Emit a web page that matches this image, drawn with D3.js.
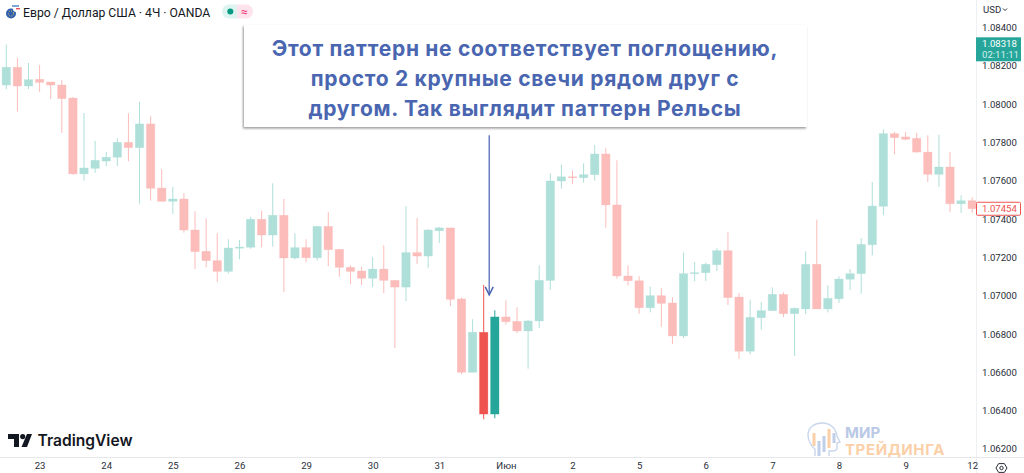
<!DOCTYPE html>
<html>
<head>
<meta charset="utf-8">
<style>
  html, body { margin: 0; padding: 0; background: #fff; overflow: hidden; }
  text { font-family: Roboto, sans-serif; }
</style>
<script src="https://cdn.jsdelivr.net/npm/d3@7"></script>
</head>
<body>
<div id="chart"></div>
<script>
var opens = [1.081,1.08193,1.08095,1.0813,1.08116,1.081,1.08032,1.07636,1.07665,1.07703,1.07723,1.07801,1.07773,1.07897,1.07562,1.07493,1.07505,1.07343,1.07232,1.07183,1.07127,1.07248,1.07253,1.07399,1.07317,1.0742,1.07197,1.07251,1.07198,1.07362,1.07242,1.07148,1.07129,1.07091,1.07139,1.0708,1.07045,1.07225,1.07207,1.07339,1.07354,1.06983,1.066,1.06809,1.06382,1.06889,1.06866,1.06816,1.06868,1.0708,1.07599,1.07621,1.07616,1.07632,1.0774,1.07474,1.07103,1.07078,1.06937,1.07,1.06962,1.0679,1.07115,1.0712,1.07162,1.07235,1.06993,1.0671,1.06885,1.06922,1.07007,1.06906,1.06931,1.07164,1.06931,1.06984,1.07086,1.07115,1.07266,1.07467,1.07846,1.07829,1.07822,1.0775,1.07634,1.07672,1.0748,1.07496]
var highs = [1.08312,1.08243,1.08215,1.08205,1.08116,1.08126,1.08038,1.07954,1.07808,1.0775,1.07822,1.07953,1.08013,1.07937,1.0766,1.07568,1.07535,1.07441,1.07404,1.07326,1.07295,1.07291,1.07411,1.07444,1.07587,1.07505,1.07326,1.07295,1.07364,1.07436,1.07244,1.07159,1.07151,1.07201,1.07263,1.07082,1.07467,1.07406,1.07348,1.07359,1.07354,1.0699,1.06877,1.07056,1.06924,1.06976,1.06939,1.06873,1.07159,1.07639,1.07683,1.07653,1.07691,1.07787,1.0777,1.07707,1.07159,1.07101,1.07047,1.07039,1.06992,1.07225,1.07176,1.07172,1.07248,1.07331,1.07014,1.06979,1.06967,1.07044,1.07018,1.06939,1.07232,1.07397,1.07054,1.07101,1.07139,1.07301,1.07594,1.07869,1.07855,1.07855,1.0785,1.07838,1.0784,1.0775,1.07524,1.07514]
var lows = [1.08079,1.07961,1.08079,1.08064,1.08027,1.0785,1.07632,1.07601,1.07642,1.07677,1.07677,1.07702,1.0748,1.07496,1.07493,1.07427,1.07329,1.07139,1.07148,1.07072,1.07115,1.0719,1.07245,1.07253,1.07256,1.07019,1.0719,1.07174,1.07183,1.07155,1.07099,1.07061,1.07056,1.07045,1.07013,1.06727,1.06972,1.07166,1.07145,1.07275,1.06946,1.0659,1.066,1.06355,1.0636,1.06849,1.06804,1.06619,1.06831,1.07031,1.07559,1.07582,1.0759,1.07601,1.07355,1.07089,1.07054,1.06906,1.06913,1.06838,1.06748,1.06779,1.07075,1.07077,1.07129,1.06951,1.06671,1.06694,1.06822,1.06922,1.06889,1.06685,1.06904,1.06931,1.06913,1.06962,1.0703,1.0701,1.07211,1.07421,1.07738,1.07811,1.07747,1.07594,1.07568,1.07436,1.07432,1.07433]
var closes = [1.08193,1.08095,1.08128,1.08114,1.081,1.08029,1.07636,1.07667,1.07707,1.07723,1.07801,1.07773,1.07897,1.07561,1.07493,1.07505,1.07343,1.0723,1.07183,1.07127,1.07249,1.07254,1.07399,1.07317,1.0742,1.07197,1.07251,1.07198,1.07362,1.0724,1.07148,1.07127,1.07091,1.07139,1.0708,1.07045,1.07225,1.07207,1.07343,1.07354,1.06981,1.066,1.06809,1.06382,1.06889,1.06864,1.06816,1.06868,1.0708,1.07599,1.07621,1.07616,1.07632,1.0774,1.07474,1.07103,1.07078,1.06937,1.07,1.0696,1.0679,1.07115,1.0712,1.07164,1.07235,1.0699,1.0671,1.06887,1.06922,1.07007,1.06906,1.06934,1.07164,1.06931,1.06986,1.07087,1.07115,1.07268,1.07468,1.07846,1.07825,1.07817,1.0775,1.07634,1.07672,1.0748,1.07496,1.07454]
// the two candles the note is talking about keep full colour
var brightIndex = [43, 44]

var priceTicks = [1.084,1.082,1.08,1.078,1.076,1.074,1.072,1.07,1.068,1.066,1.064,1.062]
var dayIndex = [3,9,15,21,27,33,39,45,51,57,63,69,75,81,87]
var dayLabels = ['23','24','25','26','29','30','31','Июн','2','5','6','7','8','9','12']
var noteLines = ['Этот паттерн не соответствует поглощению,', 'просто 2 крупные свечи рядом друг с', 'другом. Так выглядит паттерн Рельсы']
var lastPrice = 1.08318
var currentPrice = 1.07454
var arrowPrices = [1.07838, 1.07004]

var width = 1024
var height = 473
var plotRight = 976
var plotBottom = 457
var axisFont = '9.6px'

var svg = d3
  .select('#chart')
  .append('svg')
  .attr('width', width)
  .attr('height', height)
  .style('display', 'block')

var x = d3.scaleLinear().domain([0, 87]).range([6.3, 972.2])
var y = d3.scaleLinear().domain([1.062, 1.084]).range([448.9, 27.6])

svg.append('clipPath').attr('id', 'plot')
  .append('rect').attr('width', plotRight).attr('height', plotBottom)

var candles = opens.map((o, i) => ({ i: i, o: o, h: highs[i], l: lows[i], c: closes[i] }))

function candleColor(d) {
  var up = d.c >= d.o
  if (brightIndex.includes(d.i)) return up ? '#26a69a' : '#ef5350'
  return up ? '#aedfd9' : '#fbbcba'
}

var plot = svg.append('g').attr('clip-path', 'url(#plot)')

var groups = plot.selectAll('.candle').data(candles).enter().append('g').attr('class', 'candle')

groups.append('line')
  .attr('x1', d => x(d.i))
  .attr('x2', d => x(d.i))
  .attr('y1', d => y(d.h))
  .attr('y2', d => y(d.l))
  .attr('stroke', candleColor)
  .attr('stroke-width', 1)

groups.append('rect')
  .attr('x', d => x(d.i) - 4.2)
  .attr('width', 8.4)
  .attr('y', d => y(Math.max(d.o, d.c)))
  .attr('height', d => Math.max(1, Math.abs(y(d.o) - y(d.c))))
  .attr('fill', candleColor)
  .attr('stroke', candleColor)
  .attr('stroke-opacity', 0.5)
  .attr('stroke-width', 0.6)

// axes
svg.append('line').attr('x1', plotRight + 0.5).attr('x2', plotRight + 0.5).attr('y1', 0).attr('y2', height).attr('stroke', '#eef0f3')
svg.append('line').attr('x1', 0).attr('x2', width).attr('y1', plotBottom + 0.5).attr('y2', plotBottom + 0.5).attr('stroke', '#e6e8ec')

var yAxis = svg.append('g')
  .attr('transform', 'translate(' + (plotRight + 6) + ',0)')
  .call(d3.axisRight(y).tickValues(priceTicks).tickSize(0).tickPadding(0).tickFormat(d3.format('.5f')))
var xAxis = svg.append('g')
  .attr('transform', 'translate(0,' + (plotBottom + 4) + ')')
  .call(d3.axisBottom(x).tickValues(dayIndex).tickSize(0).tickPadding(1).tickFormat((d, i) => dayLabels[i]))
yAxis.select('.domain').remove()
xAxis.select('.domain').remove()
svg.selectAll('.tick text')
  .attr('fill', '#2a2e39')
  .style('font-family', 'Roboto, sans-serif')
  .style('font-size', axisFont)

// price tags
svg.append('rect').attr('x', plotRight).attr('y', y(lastPrice) - 6).attr('width', 45).attr('height', 24).attr('fill', '#26a69a')
svg.append('text').attr('x', plotRight + 6).attr('y', y(lastPrice) + 3.5).text(d3.format('.5f')(lastPrice))
  .attr('fill', '#fff').style('font-size', axisFont)
svg.append('text').attr('x', plotRight + 6).attr('y', y(lastPrice) + 14.5).text('02:11:11')
  .attr('fill', '#d5f0ec').style('font-size', axisFont)

svg.append('rect').attr('x', plotRight + 0.5).attr('y', y(currentPrice) - 6.5).attr('width', 44).attr('height', 13).attr('rx', 1)
  .attr('fill', '#fff').attr('stroke', '#ef5350')
svg.append('text').attr('x', plotRight + 6).attr('y', y(currentPrice) + 3.5).text(d3.format('.5f')(currentPrice))
  .attr('fill', '#ef5350').style('font-size', axisFont)

svg.append('text').attr('x', 983).attr('y', 13).text('USD').attr('fill', '#2a2e39').style('font-size', axisFont)
svg.append('path').attr('d', 'M1003 8.5l2 2 2-2').attr('fill', 'none').attr('stroke', '#2a2e39')

// hex settings icon
svg.append('path').attr('d', 'M996 468l2.6-4.4h5.8l2.6 4.4-2.6 4.4h-5.8z').attr('fill', 'none').attr('stroke', '#2a2e39')
svg.append('circle').attr('cx', 1001.5).attr('cy', 468).attr('r', 1.7).attr('fill', 'none').attr('stroke', '#2a2e39')

// header
var head = svg.append('g')
head.append('circle').attr('cx', 11).attr('cy', 13.5).attr('r', 5).attr('fill', '#2f5fb0')
head.append('circle').attr('cx', 11).attr('cy', 13.5).attr('r', 2.6).attr('fill', 'none').attr('stroke', '#e8c94a').attr('stroke-dasharray', '1 1.4')
head.append('circle').attr('cx', 16.5).attr('cy', 8.5).attr('r', 3.6).attr('fill', '#fff')
head.append('path').attr('d', 'M12 5h7v2h-7z').attr('fill', '#7fa4d8')
head.append('path').attr('d', 'M16 8h4v1.4h-4z').attr('fill', '#e8505b')
head.append('text').attr('x', 23).attr('y', 16.5).text('Евро / Доллар США · 4Ч · OANDA')
  .attr('fill', '#131722').style('font-size', '12.2px')

head.append('path').attr('d', 'M229 4.5a7 7 0 0 0 0 14h8v-14z').attr('fill', '#def4f0')
head.append('path').attr('d', 'M237 4.5h9a7 7 0 0 1 0 14h-9z').attr('fill', '#fce3ec')
head.append('circle').attr('cx', 230.3).attr('cy', 11.5).attr('r', 3).attr('fill', '#089981')
head.append('text').attr('x', 244.5).attr('y', 15.5).attr('text-anchor', 'middle').text('≈')
  .attr('fill', '#f23674').style('font-size', '12px')

// logo
var logo = svg.append('g')
logo.append('path').attr('d', 'M8 434h11v13h-5v-8h-6z').attr('fill', '#131722')
logo.append('circle').attr('cx', 22.7).attr('cy', 436.6).attr('r', 2.6).attr('fill', '#131722')
logo.append('path').attr('d', 'M27 434h5l-5 13h-5.5z').attr('fill', '#131722')
logo.append('text').attr('x', 37.5).attr('y', 446).text('TradingView')
  .attr('fill', '#131722').style('font-family', 'Inter, sans-serif').style('font-weight', 600).style('font-size', '15.6px')

// watermark
var mark = svg.append('g')
mark.append('path')
  .attr('d', 'M815 456v-7c-4-3-7-9-7-14 0-8 7-12 14-12 8 0 14 5 15 13l3 6-3 1v5c0 2-2 3-5 3h-3v5')
  .attr('fill', 'none').attr('stroke', '#c9d6ec').attr('stroke-width', 1.4)
var markBars = [[814, 433, 446, '#fbd0a8'], [819, 441, 456, '#c0cfea'], [824, 436, 452, '#c0cfea'], [829, 429, 448, '#fbd0a8'], [834, 433, 443, '#c0cfea']]
mark.selectAll('.mini').data(markBars).enter().append('rect').attr('class', 'mini')
  .attr('x', d => d[0] - 1.5).attr('width', 3).attr('y', d => d[1]).attr('height', d => d[2] - d[1]).attr('fill', d => d[3])
mark.append('text').attr('x', 845).attr('y', 438).text('МИР')
  .attr('fill', '#b9c9e6').style('font-family', 'Inter, sans-serif').style('font-weight', 700).style('font-size', '15px')
mark.append('text').attr('x', 845).attr('y', 455).text('ТРЕЙДИНГА')
  .attr('fill', '#fbd0a8').style('font-family', 'Inter, sans-serif').style('font-weight', 700).style('font-size', '15px').style('letter-spacing', '0.6px')

// note box
var defs = svg.append('defs')
var shadow = defs.append('filter').attr('id', 'note-shadow').attr('x', '-5%').attr('y', '-10%').attr('width', '110%').attr('height', '120%')
shadow.append('feDropShadow').attr('dx', -1).attr('dy', 1.5).attr('stdDeviation', 1.2).attr('flood-color', '#000').attr('flood-opacity', 0.4)

svg.append('rect').attr('x', 244).attr('y', 25).attr('width', 563).attr('height', 102).attr('fill', '#fff').attr('filter', 'url(#note-shadow)')

svg.selectAll('.note').data(noteLines).enter().append('text').attr('class', 'note')
  .attr('x', 525)
  .attr('y', (d, i) => 56 + i * 30)
  .attr('text-anchor', 'middle')
  .attr('fill', '#4a66b0')
  .style('font-family', 'Inter, sans-serif')
  .style('font-weight', 700)
  .style('font-size', '21px')
  .style('letter-spacing', '0.7px')
  .text(d => d)

// arrow between the two candles
var arrowX = x(43.5)
svg.append('line').attr('x1', arrowX).attr('x2', arrowX).attr('y1', y(arrowPrices[0])).attr('y2', y(arrowPrices[1]))
  .attr('stroke', '#6a82c4').attr('stroke-width', 1.5)
svg.append('path')
  .attr('d', 'M' + (arrowX - 4) + ' ' + (y(arrowPrices[1]) - 8) + 'L' + arrowX + ' ' + y(arrowPrices[1]) + 'L' + (arrowX + 4) + ' ' + (y(arrowPrices[1]) - 8))
  .attr('fill', 'none').attr('stroke', '#4a66b0').attr('stroke-width', 1.5)
</script>
</body>
</html>
